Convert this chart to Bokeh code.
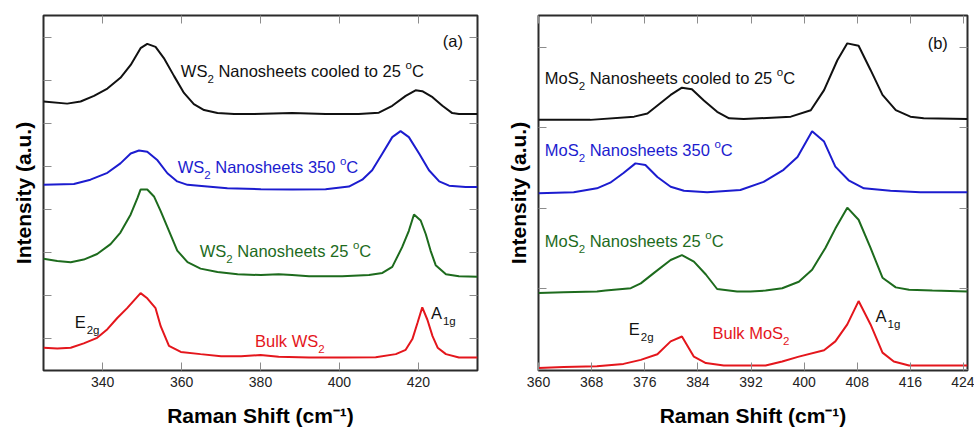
from bokeh.plotting import figure
from bokeh.layouts import row
from bokeh.models import LinearAxis, FixedTicker, Label, Range1d
from bokeh.embed import file_html
from bokeh.resources import INLINE

FONT = "Liberation Sans"

# ---------------- Panel (a): WS2 ----------------
ws_cool_x = [325.0, 331.0, 334.4, 337.8, 341.2, 344.5, 347.1, 349.6, 351.3, 353.4, 355.5, 358.1, 360.6, 363.1,
             365.7, 369.1, 373.3, 378.4, 388.0, 396.5, 404.9, 410.0, 413.4, 416.8, 419.3, 421.0, 423.6, 426.1,
             428.6, 430.3, 435.0]
ws_cool_y = [5.52, 5.47, 5.52, 5.65, 5.82, 6.07, 6.37, 6.76, 6.86, 6.79, 6.53, 6.11, 5.72, 5.46,
             5.32, 5.25, 5.23, 5.23, 5.25, 5.23, 5.23, 5.26, 5.42, 5.65, 5.78, 5.76, 5.62, 5.42,
             5.25, 5.23, 5.23]

ws_350_x = [325.0, 332.7, 336.9, 341.2, 344.5, 347.1, 349.2, 351.3, 353.9, 356.4, 358.9, 361.5, 366.5, 371.6,
            380.1, 388.0, 396.5, 402.4, 405.8, 408.3, 410.9, 413.4, 415.5, 417.6, 420.2, 422.7, 425.3, 427.8,
            432.0, 435.0]
ws_350_y = [3.58, 3.60, 3.70, 3.86, 4.08, 4.31, 4.38, 4.35, 4.15, 3.85, 3.66, 3.58, 3.54, 3.50,
            3.48, 3.47, 3.48, 3.54, 3.70, 3.92, 4.31, 4.69, 4.83, 4.69, 4.31, 3.92, 3.66, 3.56,
            3.53, 3.53]

ws_25_x = [325.0, 328.5, 331.9, 335.2, 338.6, 342.0, 344.5, 347.1, 348.8, 349.6, 351.3, 353.0, 354.7, 356.8,
           358.9, 361.5, 364.8, 369.1, 374.2, 380.1, 384.6, 388.0, 392.3, 400.7, 407.5, 410.9, 413.4, 415.9,
           417.6, 418.9, 420.6, 421.9, 423.1, 424.4, 427.0, 430.3, 435.0]
ws_25_y = [1.86, 1.81, 1.78, 1.84, 1.97, 2.20, 2.47, 2.89, 3.27, 3.47, 3.47, 3.31, 2.97, 2.51,
           2.05, 1.78, 1.63, 1.55, 1.50, 1.48, 1.50, 1.48, 1.45, 1.45, 1.48, 1.53, 1.67, 2.13,
           2.51, 2.89, 2.75, 2.43, 2.05, 1.71, 1.50, 1.45, 1.44]

ws_bulk_x = [325.0, 328.5, 331.9, 335.2, 338.6, 341.2, 343.7, 346.2, 349.6, 351.3, 353.4, 354.7, 356.8, 359.8,
             364.8, 370.0, 375.1, 380.0, 384.6, 392.3, 400.7, 409.2, 414.3, 416.8, 418.5, 419.8, 421.0, 422.3,
             423.6, 424.9, 427.0, 430.3, 435.0]
ws_bulk_y = [-0.21, -0.23, -0.21, -0.11, 0.02, 0.22, 0.48, 0.71, 1.06, 0.94, 0.71, 0.29, -0.17, -0.31,
             -0.36, -0.41, -0.41, -0.38, -0.42, -0.44, -0.44, -0.43, -0.36, -0.26, -0.01, 0.37, 0.73, 0.44,
             0.06, -0.21, -0.36, -0.44, -0.44]

ws_xticks = [340, 360, 380, 400, 420]
ws_yticks = [0, 1, 2, 3, 4, 5, 6, 7]

# ---------------- Panel (b): MoS2 ----------------
mos_cool_x = [360.0, 367.8, 374.4, 376.4, 379.9, 381.6, 383.1, 384.9, 386.9, 388.7, 390.9, 398.0, 401.0, 403.0,
              405.0, 406.5, 408.2, 410.0, 411.8, 413.8, 416.0, 418.0, 424.6]
mos_cool_y = [3.10, 3.10, 3.14, 3.18, 3.41, 3.50, 3.48, 3.34, 3.20, 3.12, 3.11, 3.14, 3.22, 3.47,
              3.84, 4.05, 4.02, 3.72, 3.41, 3.22, 3.14, 3.12, 3.11]

mos_350_x = [360.0, 365.3, 368.8, 370.8, 372.8, 374.6, 376.1, 377.9, 379.9, 381.9, 385.4, 390.4, 393.9, 396.9,
             399.0, 401.2, 403.0, 404.7, 406.7, 409.0, 413.0, 417.5, 424.6]
mos_350_y = [2.19, 2.20, 2.25, 2.32, 2.44, 2.56, 2.54, 2.39, 2.27, 2.22, 2.20, 2.23, 2.33, 2.48,
             2.64, 2.96, 2.83, 2.52, 2.35, 2.25, 2.22, 2.20, 2.20]

mos_25_x = [360.0, 363.8, 368.8, 370.1, 373.9, 375.4, 377.4, 379.9, 381.6, 383.4, 385.2, 386.9, 389.9, 391.9,
            394.2, 396.7, 399.2, 401.2, 403.2, 404.7, 406.5, 408.2, 410.0, 411.8, 413.8, 415.8, 419.3, 424.6]
mos_25_y = [0.95, 0.96, 0.97, 0.98, 1.01, 1.07, 1.20, 1.36, 1.42, 1.34, 1.18, 1.00, 0.97, 0.97,
            0.98, 1.01, 1.09, 1.24, 1.51, 1.75, 2.01, 1.86, 1.51, 1.14, 1.02, 0.99, 0.98, 0.97]

mos_bulk_x = [360.0, 363.8, 368.8, 372.8, 375.4, 377.9, 379.9, 381.6, 383.4, 385.2, 387.9, 391.9, 394.2, 396.7,
              399.2, 403.0, 404.7, 406.5, 408.2, 410.0, 411.8, 413.5, 415.8, 419.3, 424.6]
mos_bulk_y = [0.02, 0.03, 0.04, 0.07, 0.12, 0.19, 0.35, 0.41, 0.16, 0.08, 0.05, 0.05, 0.05, 0.10,
              0.16, 0.24, 0.35, 0.56, 0.85, 0.56, 0.21, 0.10, 0.05, 0.05, 0.05]

mos_xticks = [360, 368, 376, 384, 392, 400, 408, 416, 424]
mos_yticks = [0, 1, 2, 3, 4]

BLACK = "#111111"
BLUE = "#1c1ccf"
GREEN = "#1d6b1d"
RED = "#e4161c"
TICK = "#8c8c8c"


def labelled_axis(ax, ticks):
    ax.ticker = FixedTicker(ticks=ticks)
    ax.major_tick_in = 8
    ax.major_tick_out = 0
    ax.major_tick_line_color = TICK
    ax.minor_tick_line_color = None
    ax.axis_line_color = None
    ax.major_label_text_font = FONT
    ax.major_label_text_font_size = "14px"
    ax.major_label_text_color = "#222222"
    ax.major_label_standoff = 6


def bare_axis(ax, ticks):
    # ticks only (drawn as minor ticks, so that no tick labels exist)
    ax.ticker = FixedTicker(ticks=[], minor_ticks=ticks)
    ax.minor_tick_in = 8
    ax.minor_tick_out = 0
    ax.minor_tick_line_color = TICK
    ax.minor_tick_line_width = 1
    ax.major_tick_line_color = None
    ax.axis_line_color = None
    ax.major_label_standoff = 0


def style_title(ax, text, standoff):
    ax.axis_label = text
    ax.axis_label_text_font = FONT
    ax.axis_label_text_font_size = "21px"
    ax.axis_label_text_font_style = "bold"
    ax.axis_label_text_color = "black"
    ax.axis_label_standoff = standoff


def make_fig(width, xr, yr, xticks, yticks, bl, br, bb):
    p = figure(width=width, height=429, x_range=Range1d(*xr), y_range=Range1d(*yr),
               output_backend="svg", toolbar_location=None,
               min_border_left=bl, min_border_right=br, min_border_top=15, min_border_bottom=bb)
    p.grid.visible = False
    p.outline_line_color = "#2b2b2b"
    p.outline_line_width = 2
    p.background_fill_color = "white"
    p.border_fill_color = "white"
    bottom = p.below[0]
    left = p.left[0]
    labelled_axis(bottom, xticks)
    bare_axis(left, yticks)
    style_title(bottom, "Raman Shift (cm\u207b\u00b9)", 14)
    style_title(left, "Intensity (a.u.)", 9)
    top = LinearAxis()
    bare_axis(top, xticks)
    p.add_layout(top, "above")
    right = LinearAxis()
    bare_axis(right, yticks)
    p.add_layout(right, "right")
    return p


def add_text(p, x, y, pieces, color):
    # pieces: (text, font size px, x offset px, y offset px)
    for txt, size, dx, dy in pieces:
        p.add_layout(Label(x=x, y=y, text=txt, x_offset=dx, y_offset=dy,
                           text_font=FONT, text_font_size=f"{size}px", text_color=color,
                           text_align="left", text_baseline="alphabetic"))


M, S = 16.5, 11.5

# ----- Panel (a)
p1 = make_fig(490, (325, 435), (-0.741, 7.521), ws_xticks, ws_yticks, 43, 13, 54)
p1.line(ws_cool_x, ws_cool_y, line_color=BLACK, line_width=2)
p1.line(ws_350_x, ws_350_y, line_color=BLUE, line_width=2)
p1.line(ws_25_x, ws_25_y, line_color=GREEN, line_width=2)
p1.line(ws_bulk_x, ws_bulk_y, line_color=RED, line_width=2)

add_text(p1, 359.8, 6.24, [("WS", M, 0, 0), ("2", S, 26.6, -8),
                           ("Nanosheets cooled to 25", M, 37.6, 0), ("o", S, 224.7, 6), ("C", M, 231.1, 0)], BLACK)
add_text(p1, 359.0, 4.00, [("WS", M, 0, 0), ("2", S, 26.6, -8),
                           ("Nanosheets 350", M, 37.6, 0), ("o", S, 162.3, 6), ("C", M, 168.7, 0)], BLUE)
add_text(p1, 364.6, 2.03, [("WS", M, 0, 0), ("2", S, 26.6, -8),
                           ("Nanosheets 25", M, 37.6, 0), ("o", S, 153.2, 6), ("C", M, 159.6, 0)], GREEN)
add_text(p1, 378.6, -0.05, [("Bulk WS", M, 0, 0), ("2", S, 63.3, -8)], RED)
add_text(p1, 332.9, 0.38, [("E", M, 0, 0), ("2g", S, 12, -8)], BLACK)
add_text(p1, 423.2, 0.60, [("A", M, 0, 0), ("1g", S, 12, -8)], BLACK)
add_text(p1, 426.2, 6.93, [("(a)", M, 0, 0)], BLACK)

# ----- Panel (b)
p2 = make_fig(484, (360, 424.6), (-0.012, 4.396), mos_xticks, mos_yticks, 48, 7, 58)
p2.line(mos_cool_x, mos_cool_y, line_color=BLACK, line_width=2)
p2.line(mos_350_x, mos_350_y, line_color=BLUE, line_width=2)
p2.line(mos_25_x, mos_25_y, line_color=GREEN, line_width=2)
p2.line(mos_bulk_x, mos_bulk_y, line_color=RED, line_width=2)

add_text(p2, 360.95, 3.62, [("MoS", M, 0, 0), ("2", S, 33.9, -8),
                            ("Nanosheets cooled to 25", M, 44.9, 0), ("o", S, 232.0, 6), ("C", M, 238.4, 0)], BLACK)
add_text(p2, 360.95, 2.72, [("MoS", M, 0, 0), ("2", S, 33.9, -8),
                            ("Nanosheets 350", M, 44.9, 0), ("o", S, 169.6, 6), ("C", M, 176.0, 0)], BLUE)
add_text(p2, 360.95, 1.60, [("MoS", M, 0, 0), ("2", S, 33.9, -8),
                            ("Nanosheets 25", M, 44.9, 0), ("o", S, 160.5, 6), ("C", M, 166.9, 0)], GREEN)
add_text(p2, 386.2, 0.45, [("Bulk MoS", M, 0, 0), ("2", S, 70.6, -8)], RED)
add_text(p2, 373.6, 0.50, [("E", M, 0, 0), ("2g", S, 12, -8)], BLACK)
add_text(p2, 410.75, 0.67, [("A", M, 0, 0), ("1g", S, 12, -8)], BLACK)
add_text(p2, 418.6, 4.05, [("(b)", M, 0, 0)], BLACK)

layout = row(p1, p2)
open("out.html", "w").write(file_html(layout, INLINE))
